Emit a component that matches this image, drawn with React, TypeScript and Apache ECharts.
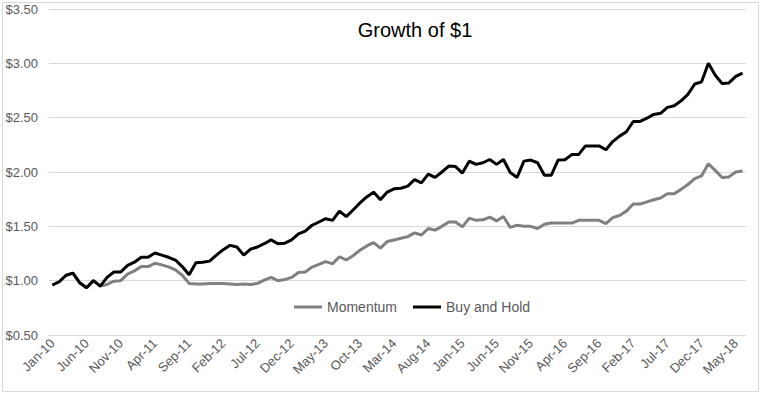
import React, { useEffect, useRef } from "react";
import * as echarts from "echarts";

const months: string[] = [
  "Jan-10","Feb-10","Mar-10","Apr-10","May-10","Jun-10","Jul-10","Aug-10","Sep-10","Oct-10","Nov-10","Dec-10",
  "Jan-11","Feb-11","Mar-11","Apr-11","May-11","Jun-11","Jul-11","Aug-11","Sep-11","Oct-11","Nov-11","Dec-11",
  "Jan-12","Feb-12","Mar-12","Apr-12","May-12","Jun-12","Jul-12","Aug-12","Sep-12","Oct-12","Nov-12","Dec-12",
  "Jan-13","Feb-13","Mar-13","Apr-13","May-13","Jun-13","Jul-13","Aug-13","Sep-13","Oct-13","Nov-13","Dec-13",
  "Jan-14","Feb-14","Mar-14","Apr-14","May-14","Jun-14","Jul-14","Aug-14","Sep-14","Oct-14","Nov-14","Dec-14",
  "Jan-15","Feb-15","Mar-15","Apr-15","May-15","Jun-15","Jul-15","Aug-15","Sep-15","Oct-15","Nov-15","Dec-15",
  "Jan-16","Feb-16","Mar-16","Apr-16","May-16","Jun-16","Jul-16","Aug-16","Sep-16","Oct-16","Nov-16","Dec-16",
  "Jan-17","Feb-17","Mar-17","Apr-17","May-17","Jun-17","Jul-17","Aug-17","Sep-17","Oct-17","Nov-17","Dec-17",
  "Jan-18","Feb-18","Mar-18","Apr-18","May-18","Jun-18"
];

const momentum: number[] = [
  0.96, 0.99, 1.05, 1.07, 0.98, 0.935, 1.0, 0.95, 0.965, 0.995,
  1.0, 1.06, 1.09, 1.13, 1.13, 1.16, 1.145, 1.127, 1.1, 1.05,
  0.975, 0.97, 0.97, 0.975, 0.975, 0.975, 0.97, 0.965, 0.97, 0.965,
  0.975, 1.005, 1.03, 1.0, 1.01, 1.03, 1.075, 1.08, 1.125, 1.15,
  1.175, 1.155, 1.22, 1.19, 1.23, 1.28, 1.32, 1.35, 1.3, 1.36,
  1.375, 1.39, 1.405, 1.44, 1.42, 1.48, 1.465, 1.5, 1.54, 1.54,
  1.495, 1.575, 1.555, 1.56, 1.585, 1.55, 1.59, 1.49, 1.51, 1.5,
  1.5, 1.48, 1.52, 1.53, 1.53, 1.53, 1.53, 1.555, 1.555, 1.555,
  1.555, 1.525, 1.58, 1.6, 1.64, 1.705, 1.705, 1.725, 1.745, 1.76,
  1.8, 1.8, 1.84, 1.885, 1.94, 1.965, 2.075, 2.015, 1.95, 1.955,
  2.0, 2.01
];

const buyAndHold: number[] = [
  0.96, 0.99, 1.05, 1.07, 0.98, 0.935, 1.0, 0.95, 1.03, 1.08,
  1.08, 1.14, 1.17, 1.215, 1.215, 1.255, 1.235, 1.215, 1.19, 1.13,
  1.055, 1.165, 1.17, 1.18, 1.235, 1.285, 1.325, 1.31, 1.235, 1.29,
  1.31, 1.34, 1.375, 1.34, 1.345, 1.375, 1.43, 1.455, 1.51, 1.54,
  1.57, 1.555, 1.64, 1.59, 1.65, 1.715, 1.77, 1.815, 1.745, 1.815,
  1.845, 1.85, 1.87, 1.93, 1.9, 1.98, 1.95, 2.0, 2.055, 2.05,
  1.99, 2.1, 2.07, 2.085, 2.115, 2.07, 2.115, 1.995, 1.95, 2.1,
  2.11, 2.085, 1.97, 1.97, 2.11, 2.113, 2.16, 2.16, 2.24, 2.24,
  2.24, 2.205, 2.28, 2.33, 2.37, 2.465, 2.465, 2.495, 2.53, 2.54,
  2.595, 2.61, 2.655, 2.715, 2.81, 2.83, 3.0, 2.89, 2.815, 2.82,
  2.88, 2.91
];

const FONT = "'Liberation Sans', Arial, sans-serif";

export default function App() {
  const ref = useRef<HTMLDivElement>(null);
  useEffect(() => {
    if (!ref.current) return;
    const chart = echarts.init(ref.current, null, { renderer: "svg" });
    chart.setOption({
      animation: false,
      backgroundColor: "#ffffff",
      graphic: [
        {
          type: "rect",
          shape: { x: 2.5, y: 2.5, width: 756, height: 389 },
          style: { fill: "none", stroke: "#d9d9d9", lineWidth: 1 },
          silent: true,
        },
        {
          type: "text",
          x: 415,
          y: 30,
          style: {
            text: "Growth of $1",
            fill: "#000000",
            font: `20px ${FONT}`,
            textAlign: "center",
            textVerticalAlign: "middle",
          },
        },
      ],
      legend: {
        left: 289,
        top: 295,
        itemWidth: 28,
        itemHeight: 3,
        itemGap: 16,
        icon: "rect",
        textStyle: { color: "#595959", fontSize: 14, fontFamily: FONT },
        data: ["Momentum", "Buy and Hold"],
      },
      grid: { left: 49, right: 25, top: 9, bottom: 62, containLabel: false },
      xAxis: {
        type: "category",
        data: months,
        boundaryGap: true,
        axisLine: { show: true, lineStyle: { color: "#d9d9d9", width: 1 } },
        axisTick: { show: false },
        axisLabel: {
          interval: 4,
          rotate: 45,
          color: "#595959",
          fontSize: 13,
          fontFamily: FONT,
          margin: 6,
        },
        splitLine: { show: false },
      },
      yAxis: {
        type: "value",
        min: 0.5,
        max: 3.5,
        interval: 0.5,
        axisLine: { show: false },
        axisTick: { show: false },
        axisLabel: {
          color: "#595959",
          fontSize: 13,
          fontFamily: FONT,
          margin: 11,
          formatter: (v: number) => "$" + v.toFixed(2),
        },
        splitLine: { lineStyle: { color: "#d9d9d9", width: 1 } },
      },
      series: [
        {
          name: "Momentum",
          type: "line",
          data: momentum,
          showSymbol: false,
          symbol: "none",
          lineStyle: { color: "#808080", width: 3 },
          itemStyle: { color: "#808080" },
        },
        {
          name: "Buy and Hold",
          type: "line",
          data: buyAndHold,
          showSymbol: false,
          symbol: "none",
          lineStyle: { color: "#000000", width: 3 },
          itemStyle: { color: "#000000" },
        },
      ],
    });
    return () => chart.dispose();
  }, []);
  return (
    <div
      ref={ref}
      style={{ position: "absolute", left: 0, top: 0, width: 771, height: 397, background: "#fff" }}
    />
  );
}
